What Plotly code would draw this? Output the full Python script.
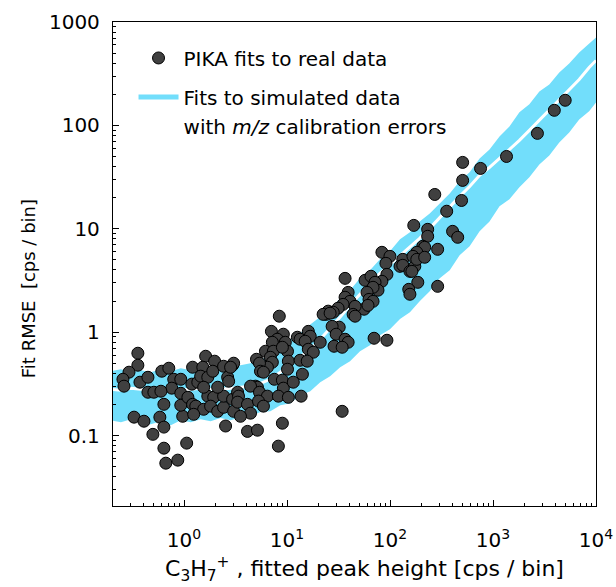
import plotly.graph_objects as go

# ---------------- data ----------------
# PIKA fits to real data: peak height [cps/bin] vs fit RMSE [cps/bin]
real_x = [
    0.356, 0.356, 0.292, 0.255, 0.261, 0.373, 0.446, 0.446, 0.509, 0.608,
    0.711, 0.794, 0.929, 0.760, 0.596, 0.929, 0.637, 0.327, 0.408, 0.582,
    0.637, 0.498, 0.970, 0.929, 1.09, 1.21, 1.19, 1.36, 1.62, 1.98,
    1.52, 1.45, 1.70, 1.90, 2.42, 2.96, 2.65, 2.71, 1.21, 1.30,
    1.55, 1.24, 1.70, 1.94, 1.81, 2.12, 2.42, 2.42, 2.96, 3.03,
    2.53, 0.637, 1.06, 0.869, 0.665, 1.55, 2.12,
    8.41, 7.05, 9.21, 8.05, 9.62, 7.20, 12.6, 13.4, 16.1, 16.8,
    15.0, 21.0, 24.0, 25.1, 6.17, 7.36, 10.1, 9.01, 16.1, 18.0,
    6.89, 7.20, 6.45, 5.05, 5.40, 3.03, 2.83, 10.3, 13.4, 15.7,
    10.1, 14.1, 5.52, 5.90, 7.53, 9.01, 9.21, 11.5, 4.94, 5.16,
    4.42, 5.40, 6.45, 8.24, 10.3, 13.7, 3.31, 3.38, 3.31, 4.13,
    5.28, 5.90, 4.42, 3.53, 9.01, 4.13, 5.16, 8.24,
    170, 83.4, 99.8, 91.2, 93.3, 83.4, 133, 125, 133, 156,
    174, 186, 152, 156, 36.6, 57.2, 65.3, 71.5, 76.4, 68.4,
    39.2, 36.6, 40.9, 35.0, 59.8, 62.5, 68.4, 56.0, 61.1, 45.8,
    43.8, 45.8, 31.3, 28.1, 22.4, 26.2, 32.1, 27.4, 30.0, 36.6,
    39.2, 28.6, 34.3, 70.0, 93.3, 34.3,
    1352, 507, 757, 507, 272, 495, 355, 232, 232, 405,
    454, 290, 208, 217, 182, 167, 182, 217, 163, 290,
    5023, 3936, 2698,
]
real_y = [
    0.627, 0.480, 0.411, 0.351, 0.301, 0.329, 0.367, 0.263, 0.263, 0.420,
    0.449, 0.351, 0.351, 0.288, 0.269, 0.257, 0.201, 0.151, 0.138, 0.151,
    0.121, 0.103, 0.154, 0.197, 0.235, 0.459, 0.315, 0.329, 0.586, 0.525,
    0.459, 0.376, 0.367, 0.420, 0.469, 0.480, 0.367, 0.336, 0.201, 0.193,
    0.180, 0.161, 0.241, 0.235, 0.193, 0.172, 0.188, 0.241, 0.225, 0.172,
    0.124, 0.0757, 0.0847, 0.058, 0.0542, 0.294, 0.294,
    1.43, 1.02, 0.957, 0.856, 0.800, 0.800, 0.895, 0.856, 1.02, 0.915,
    0.819, 0.800, 1.49, 1.60, 0.655, 0.655, 0.655, 0.716, 0.685, 0.641,
    0.573, 0.513, 0.459, 0.548, 0.502, 0.502, 0.459, 0.525, 0.536, 0.525,
    0.439, 0.393, 0.420, 0.411, 0.351, 0.344, 0.288, 0.329, 0.301, 0.294,
    0.301, 0.263, 0.241, 0.241, 0.235, 0.241, 0.263, 0.241, 0.211, 0.201,
    0.216, 0.193, 0.165, 0.154, 0.132, 0.110, 0.113, 0.0792,
    10.8, 5.93, 5.42, 4.64, 3.63, 3.11, 5.07, 4.34, 4.44, 3.88,
    4.34, 3.04, 2.60, 2.33, 3.32, 3.18, 3.48, 3.04, 2.55, 2.72,
    2.43, 2.18, 1.99, 1.86, 2.43, 2.08, 1.99, 1.67, 1.82, 1.78,
    1.49, 1.43, 1.71, 1.56, 1.49, 1.53, 1.12, 1.14, 0.957, 0.856,
    0.800, 0.732, 0.716, 0.875, 0.837, 0.172,
    50.1, 43.9, 38.4, 29.4, 21.5, 18.8, 14.8, 9.89, 8.47, 9.46,
    8.28, 6.34, 6.78, 6.63, 5.93, 5.42, 5.07, 5.31, 3.88, 2.78,
    175, 140, 83.8,
]

# Fits to simulated data with m/z calibration errors: band edges and median
sim_x = [
    0.19, 0.244, 0.305, 0.381, 0.476, 0.595, 0.743, 0.929, 1.16, 1.45,
    1.81, 2.26, 2.83, 3.53, 4.42, 5.52, 6.89, 8.61, 10.8, 13.4,
    16.8, 21.0, 26.2, 32.8, 40.9, 51.1, 63.9, 79.8, 99.8, 125,
    156, 194, 243, 304, 380, 474, 593, 741, 925, 1156,
    1444, 1804, 2254, 2817, 3520, 4398, 5494, 6866, 8578, 10000,
]
sim_upper = [
    0.420, 0.439, 0.411, 0.430, 0.411, 0.439, 0.420, 0.449, 0.430, 0.449,
    0.430, 0.459, 0.449, 0.480, 0.502, 0.536, 0.613, 0.700, 0.856, 0.978,
    1.19, 1.40, 1.67, 2.13, 2.55, 3.32, 3.97, 5.07, 6.06, 7.92,
    9.25, 11.8, 14.1, 17.6, 22.0, 28.8, 35.2, 48.0, 58.6, 78.3,
    97.7, 134, 160, 213, 249, 325, 397, 507, 620, 708,
]
sim_lower = [
    0.141, 0.135, 0.144, 0.132, 0.129, 0.138, 0.126, 0.141, 0.135, 0.144,
    0.138, 0.148, 0.141, 0.151, 0.154, 0.169, 0.172, 0.197, 0.206, 0.246,
    0.269, 0.329, 0.376, 0.459, 0.525, 0.655, 0.749, 0.935, 1.07, 1.34,
    1.56, 1.99, 2.49, 3.32, 3.97, 5.55, 6.78, 9.46, 11.8, 16.5,
    19.3, 25.2, 31.5, 42.0, 51.3, 68.5, 85.6, 114, 137, 167,
]
sim_center = [
    0.281, 0.275, 0.288, 0.281, 0.275, 0.288, 0.281, 0.275, 0.281, 0.288,
    0.281, 0.281, 0.288, 0.294, 0.301, 0.321, 0.351, 0.411, 0.491, 0.573,
    0.685, 0.856, 1.09, 1.40, 1.82, 2.33, 2.97, 3.72, 4.54, 5.55,
    6.63, 8.09, 10.1, 12.9, 16.1, 20.6, 25.7, 32.9, 39.3, 48.0,
    58.6, 71.6, 89.5, 112, 140, 175, 218, 278, 363, 425,
]

x_tickvals = [1, 10, 100, 1000, 10000]
x_ticktext = ["10<sup>0</sup>", "10<sup>1</sup>", "10<sup>2</sup>",
              "10<sup>3</sup>", "10<sup>4</sup>"]
y_tickvals = [0.1, 1, 10, 100, 1000]
y_ticktext = ["0.1", "1", "10", "100", "1000"]

x_minor = [m * 10 ** e for e in range(-1, 4) for m in range(2, 10)]
y_minor = [m * 10 ** e for e in range(-2, 3) for m in range(2, 10)]

FONT = "DejaVu Sans"
BAND = "#72DEFB"

fig = go.Figure()

# band (polygon: upper edge forward, lower edge backward)
fig.add_trace(go.Scatter(
    x=sim_x + sim_x[::-1],
    y=sim_upper + sim_lower[::-1],
    fill="toself", fillcolor=BAND, mode="lines",
    line=dict(width=0, color=BAND), hoverinfo="skip", showlegend=False,
))
fig.add_trace(go.Scatter(
    x=sim_x, y=sim_center, mode="lines",
    line=dict(color="white", width=3), showlegend=False,
))
fig.add_trace(go.Scatter(
    x=real_x, y=real_y, mode="markers", name="PIKA fits to real data",
    legendgroup="a",
    marker=dict(size=12, color="#404040", line=dict(color="black", width=1)),
))
# legend entries for the simulated-data band (two text lines)
fig.add_trace(go.Scatter(
    x=[None], y=[None], mode="lines", legendgroup="b",
    name="Fits to simulated data",
    line=dict(color=BAND, width=5),
))
fig.add_trace(go.Scatter(
    x=[None], y=[None], mode="lines", legendgroup="b",
    name="with <i>m/z</i> calibration errors",
    line=dict(color="rgba(0,0,0,0)", width=0),
))

axis_common = dict(
    type="log", showline=True, linecolor="black", linewidth=1.3, mirror=True,
    ticks="inside", ticklen=6, tickwidth=1, tickcolor="black",
    showgrid=False, zeroline=False, automargin=False,
    tickfont=dict(family=FONT, size=20, color="black"),
)

fig.update_layout(
    width=616, height=587, autosize=False,
    margin=dict(l=113, r=20, t=22, b=81),
    paper_bgcolor="white", plot_bgcolor="white",
    font=dict(family=FONT, size=20, color="black"),
    xaxis=dict(**axis_common, range=[-0.69, 4.0],
               tickmode="array", tickvals=x_tickvals, ticktext=x_ticktext,
               ticklabelstandoff=16,
               minor=dict(ticks="inside", ticklen=3, tickcolor="black",
                          tickmode="array", tickvals=x_minor, showgrid=False)),
    yaxis=dict(**axis_common, range=[-1.68, 3.0],
               tickmode="array", tickvals=y_tickvals, ticktext=y_ticktext,
               ticklabelstandoff=8,
               minor=dict(ticks="inside", ticklen=3, tickcolor="black",
                          tickmode="array", tickvals=y_minor, showgrid=False)),
    legend=dict(x=0.0425, y=0.966, xanchor="left", yanchor="top",
                bgcolor="rgba(0,0,0,0)", borderwidth=0,
                font=dict(family=FONT, size=20, color="black"),
                valign="top", tracegroupgap=10, itemwidth=40,
                traceorder="grouped"),
    showlegend=True,
    annotations=[
        dict(text="C<sub>3</sub>H<sub>7</sub><sup>+</sup> , fitted peak height [cps / bin]",
             xref="paper", yref="paper", x=0.1035, y=-0.131,
             xanchor="left", yanchor="middle", showarrow=False,
             font=dict(family=FONT, size=22, color="black")),
        dict(text="Fit RMSE\u00a0 [cps / bin]",
             xref="paper", yref="paper", x=-0.176, y=0.45,
             xanchor="center", yanchor="middle", textangle=-90, showarrow=False,
             font=dict(family=FONT, size=18, color="black")),
    ],
)

fig.write_html("out.html")
